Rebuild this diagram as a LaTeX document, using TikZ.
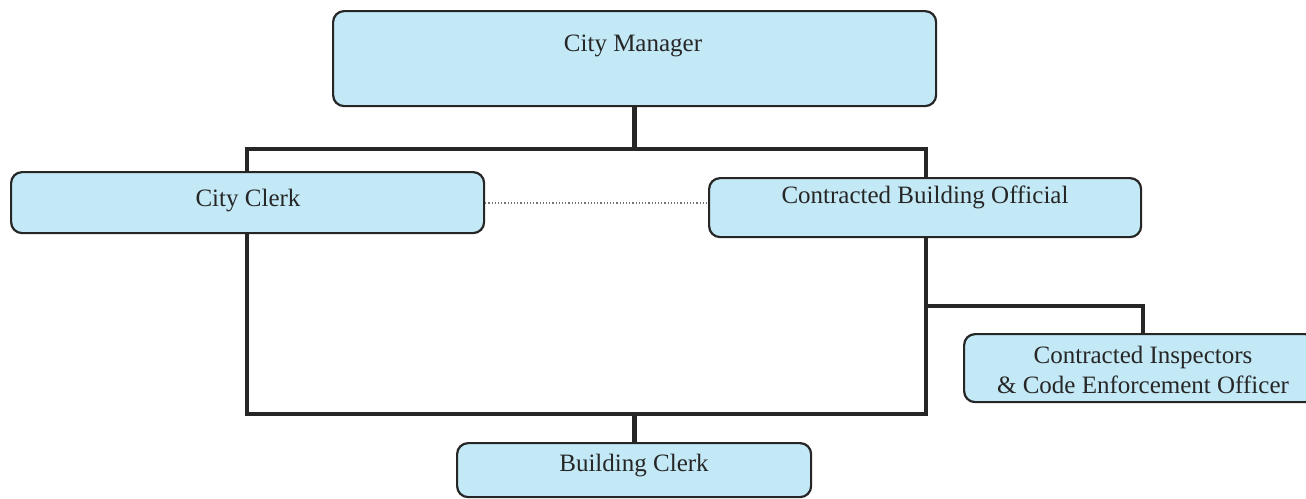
\documentclass[tikz,border=0pt]{standalone}
\usepackage{fontspec}
\setmainfont{Liberation Serif}
\begin{document}
\begin{tikzpicture}[x=1pt,y=-1pt,
  box/.style={draw=black!85, line width=2.2pt, fill=boxblue, rounded corners=11pt,
    anchor=north west, inner sep=0pt},
  lbl/.style={font=\fontsize{25}{29}\selectfont, text=black!85, align=center, inner sep=0pt},
  conn/.style={draw=black!85, line width=4.5pt, line join=miter, line cap=rect},
  dots/.style={draw=black!55, line width=1.2pt, dotted}]
\definecolor{boxblue}{RGB}{196,233,246}
\useasboundingbox (0,0) rectangle (1306,498);

% junction points of the reporting lines
\coordinate (tl) at (247,149);
\coordinate (tr) at (926,149);
\coordinate (bl) at (247,414);
\coordinate (br) at (926,414);
\coordinate (fork) at (926,306);
\coordinate (drop) at (1143,306);

% reporting lines, drawn first so the boxes sit on top of them
\draw[conn] (tl) -- (bl) -- (br) -- (tr) -- cycle;

% boxes
\node[box, minimum width=603pt, minimum height=95pt] (cm) at (332,10) {};
\node[box, minimum width=473pt, minimum height=61pt] (cc) at (10,171) {};
\node[box, minimum width=432pt, minimum height=59pt] (cbo) at (708,177) {};
\node[box, minimum width=352pt, minimum height=68pt] (ci) at (963,333) {};
\node[box, minimum width=354pt, minimum height=54pt] (bc) at (456,442) {};

% texts
\node[lbl] (cmt) at (633,46) {City Manager};
\node[lbl] (cct) at (248,201) {City Clerk};
\node[lbl] (cbot) at (925,197) {Contracted Building Official};
\node[lbl] (cit) at (1143,370) {Contracted Inspectors\\[1pt]\& Code Enforcement Officer};
\node[lbl] (bct) at (634,466) {Building Clerk};

% connectors to the boxes
\draw[conn, line cap=butt] (cm.south) -- (cm.south |- tl);
\draw[conn, line cap=butt] (bc.north -| cm.south) -- (cm.south |- bl);
\draw[conn, line cap=butt] (fork) -- (drop) -- (ci.north -| drop);
\draw[dots] (cc.east |- 0,203) -- (cbo.west |- 0,203);
\end{tikzpicture}
\end{document}
